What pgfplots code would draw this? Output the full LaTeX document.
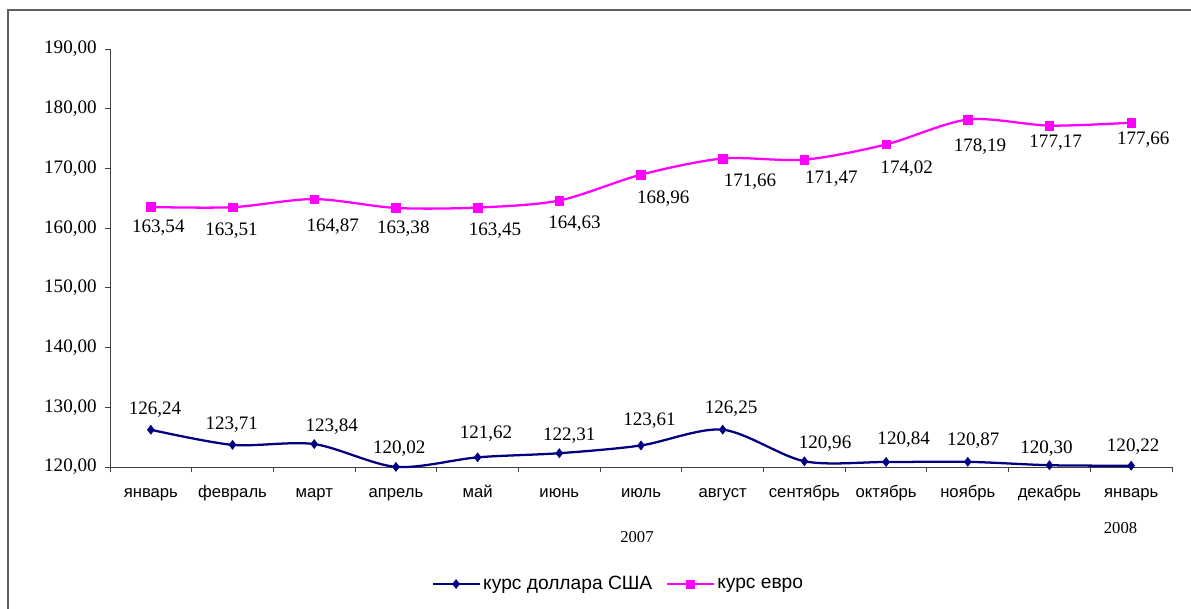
\documentclass[border=0pt]{standalone}
\usepackage{fontspec}
\setmainfont{Liberation Serif}
\newfontfamily\arial{Liberation Sans}
\usepackage{pgfplots}
\usepackage{pgfplotstable}
\pgfplotsset{compat=1.18}
\definecolor{usd}{HTML}{000080}
\definecolor{eur}{HTML}{FF00FF}
\definecolor{framecol}{HTML}{606060}
% dx, dy: label offsets in px (dy positive = away from the line)
\pgfplotstableread{
x y dx dy
0 126.24 4.2 20.4
1 123.71 -0.8 19.8
2 123.84 17.5 17.4
3 120.02 3.3 18.7
4 121.62 8.4 23.4
5 122.31 10 17.3
6 123.61 8.5 25
7 126.25 8.4 21
8 120.96 20.7 17.7
9 120.84 17.6 22.7
10 120.87 5.5 21
11 120.30 -3 17
12 120.22 2 19
}\usd
\pgfplotstableread{
x y dx dy
0 163.54 7.5 21
1 163.51 -1 23.5
2 164.87 18.5 27.6
3 163.38 7.4 21
4 163.45 17.4 23
5 164.63 15.2 22.8
6 168.96 22.3 23.6
7 171.66 27.3 23.2
8 171.47 27 18.7
9 174.02 20.6 23.9
10 178.19 12.2 27.2
11 177.17 6.2 17.5
12 177.66 12.1 17.1
}\eur
\begin{document}
\begin{tikzpicture}
\useasboundingbox (-82.5pt,-105.75pt) rectangle (810.75pt,350.25pt);
\draw[framecol, line width=1.1pt] (-76.5pt,-110pt) -- (-76.5pt,342.75pt) -- (815pt,342.75pt);
\begin{axis}[
  at={(0pt,0pt)}, anchor=south west,
  scale only axis, width=796.5pt, height=313.5pt,
  xmin=-0.5, xmax=12.5, ymin=120, ymax=190,
  clip=false,
  axis x line*=bottom, axis y line*=left,
  axis line style={-, black!75, line width=0.7pt},
  tick style={black!75, line width=0.7pt},
  tick align=outside,
  major tick length=4pt,
  /pgf/number format/assume math mode=true,
  ytick={120,130,...,190},
  yticklabel style={/pgf/number format/.cd, fixed, fixed zerofill, precision=2, use comma, /tikz/.cd,
    font=\fontsize{14.3}{16}\selectfont, xshift=-2.5pt},
  xtick={-0.5,0.5,...,12.5},
  xticklabels={},
  extra x ticks={0,1,2,3,4,5,6,7,8,9,10,11,12},
  extra x tick labels={январь,февраль,март,апрель,май,июнь,июль,август,сентябрь,октябрь,ноябрь,декабрь,январь},
  extra x tick style={major tick length=0pt, xticklabel style={anchor=base, yshift=-23pt, font=\arial\fontsize{12.5}{15}\selectfont}},
  point meta=y,
  nodes near coords={\pgfmathprintnumber[fixed,fixed zerofill,precision=2,use comma]{\pgfplotspointmeta}},
  legend style={at={(0.479,-0.28)}, anchor=center, draw=none, fill=none,
    font=\arial\fontsize{14.4}{16}\selectfont, legend columns=2,
    /tikz/every even column/.append style={column sep=8pt}},
  legend image code/.code={\draw[mark repeat=2,mark phase=2,#1] plot coordinates {(0pt,0pt) (17.5pt,0pt) (35pt,0pt)};},
]
\addplot[usd, line width=1.7pt, smooth, mark=diamond*, mark size=3.4pt, mark options={solid, line width=0.4pt},
  visualization depends on={0.75*\thisrow{dx} \as \dxx},
  visualization depends on={0.75*\thisrow{dy} \as \dyy},
  every node near coord/.style={anchor=center, xshift=\dxx pt, yshift=\dyy pt, text=black, font=\fontsize{14.3}{16}\selectfont}]
  table[x=x, y=y] {\usd};
\addlegendentry{курс доллара США}
\addplot[eur, line width=1.7pt, smooth, mark=square*, mark size=3.2pt, mark options={solid, line width=0.4pt},
  visualization depends on={0.75*\thisrow{dx} \as \dxx},
  visualization depends on={-0.75*\thisrow{dy} \as \dyy},
  every node near coord/.style={anchor=center, xshift=\dxx pt, yshift=\dyy pt, text=black, font=\fontsize{14.3}{16}\selectfont}]
  table[x=x, y=y] {\eur};
\addlegendentry{курс евро}
\node[font=\fontsize{12.5}{15}\selectfont] at (axis cs:5.95,120) [yshift=-52.5pt] {2007};
\node[font=\fontsize{12.5}{15}\selectfont] at (axis cs:11.87,120) [yshift=-45.75pt] {2008};
\end{axis}
\end{tikzpicture}
\end{document}
